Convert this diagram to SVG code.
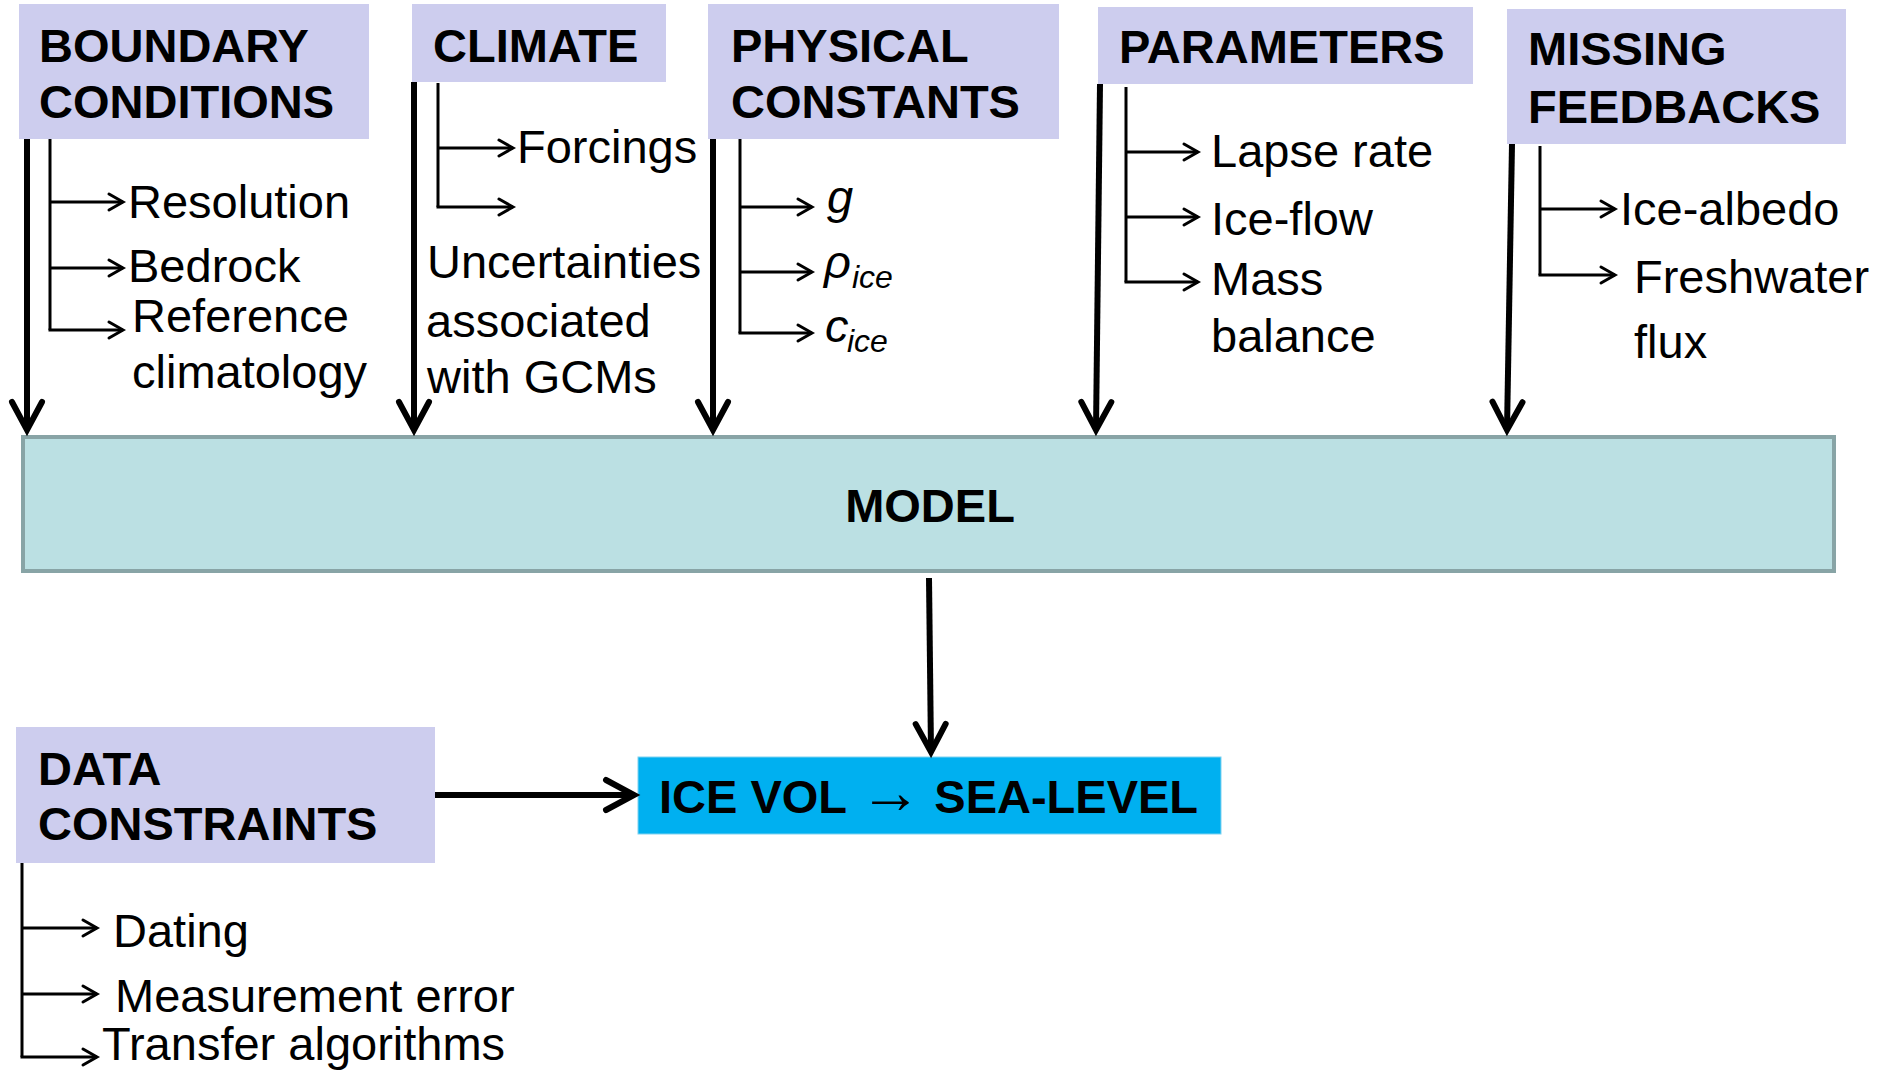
<svg xmlns="http://www.w3.org/2000/svg" width="1878" height="1072" viewBox="0 0 1878 1072">
<style>
.hd{fill:#cdcdee}
.ht{font-family:"Liberation Sans","DejaVu Sans",sans-serif;font-size:47px;font-weight:bold;fill:#000}
.t{font-family:"Liberation Sans","DejaVu Sans",sans-serif;font-size:47px;fill:#000}
.it{font-style:italic}
.sub{font-size:32px}
.main{fill:none;stroke:#000;stroke-width:6;marker-end:url(#big)}
.thin{fill:none;stroke:#000;stroke-width:3}
</style>
<defs>
<marker id="big" markerUnits="userSpaceOnUse" markerWidth="40" markerHeight="40" refX="0" refY="0" orient="auto" overflow="visible">
<path d="M-28,-15 L0,0 L-28,15" fill="none" stroke="#000" stroke-width="6" stroke-linecap="round" stroke-linejoin="miter"/>
</marker>
<marker id="small" markerUnits="userSpaceOnUse" markerWidth="20" markerHeight="20" refX="0" refY="0" orient="auto" overflow="visible">
<path d="M-14,-8 L0,0 L-14,8" fill="none" stroke="#000" stroke-width="3" stroke-linecap="round"/>
</marker>
</defs>
<rect width="1878" height="1072" fill="#fff"/>

<g id="boundary">
<rect class="hd" x="19" y="4" width="350" height="135"/>
<text class="ht" x="39" y="62">BOUNDARY</text>
<text class="ht" x="39" y="118">CONDITIONS</text>
<text class="t" x="128" y="218">Resolution</text>
<text class="t" x="128" y="282">Bedrock</text>
<text class="t" x="132" y="332">Reference</text>
<text class="t" x="132" y="388">climatology</text>
</g>

<g id="climate">
<rect class="hd" x="412" y="4" width="254" height="78"/>
<text class="ht" x="433" y="62">CLIMATE</text>
<text class="t" x="517" y="163">Forcings</text>
<text class="t" x="427" y="278">Uncertainties</text>
<text class="t" x="426" y="337">associated</text>
<text class="t" x="427" y="393">with GCMs</text>
</g>

<g id="physical">
<rect class="hd" x="708" y="4" width="351" height="135"/>
<text class="ht" x="731" y="62">PHYSICAL</text>
<text class="ht" x="731" y="118">CONSTANTS</text>
<text class="t it" x="827" y="213">g</text>
<text class="t it" x="824" y="278">ρ</text>
<text class="t it sub" x="852" y="288">ice</text>
<text class="t it" x="825" y="342">c</text>
<text class="t it sub" x="847" y="352">ice</text>
</g>

<g id="parameters">
<rect class="hd" x="1098" y="7" width="375" height="77"/>
<text class="ht" x="1119" y="63">PARAMETERS</text>
<text class="t" x="1211" y="167">Lapse rate</text>
<text class="t" x="1211" y="235">Ice-flow</text>
<text class="t" x="1211" y="295">Mass</text>
<text class="t" x="1211" y="352">balance</text>
</g>

<g id="missing">
<rect class="hd" x="1507" y="9" width="339" height="135"/>
<text class="ht" x="1528" y="65">MISSING</text>
<text class="ht" x="1528" y="123">FEEDBACKS</text>
<text class="t" x="1620" y="225">Ice-albedo</text>
<text class="t" x="1634" y="293">Freshwater</text>
<text class="t" x="1634" y="358">flux</text>
</g>

<g id="model">
<rect x="23" y="437" width="1811" height="134" fill="#bbe0e3" stroke="#88a4a6" stroke-width="4"/>
<text class="ht" x="930" y="522" text-anchor="middle">MODEL</text>
</g>

<g id="icevol">
<rect x="638" y="757" width="583" height="77" fill="#00b0f0" stroke="#7fd2f0" stroke-width="1"/>
<text class="ht" x="659" y="813">ICE VOL <tspan font-weight="normal" font-size="62px">→</tspan> SEA-LEVEL</text>
</g>

<g id="data">
<rect class="hd" x="16" y="727" width="419" height="136"/>
<text class="ht" x="38" y="785">DATA</text>
<text class="ht" x="38" y="840">CONSTRAINTS</text>
<text class="t" x="113" y="947">Dating</text>
<text class="t" x="115" y="1012">Measurement error</text>
<text class="t" x="102" y="1060">Transfer algorithms</text>
</g>

<g id="connectors">
<path class="main" d="M27,139 L27,430"/>
<path class="main" d="M414,82 L414,430"/>
<path class="main" d="M713,139 L713,430"/>
<path class="main" d="M1100,84 L1096,430"/>
<path class="main" d="M1512,144 L1507,430"/>
<path class="main" d="M929,578 L931,752"/>
<path class="main" d="M435,795 L634,795"/>

<path class="thin" d="M50,139 V330"/>
<path class="thin" d="M50,202 H123" marker-end="url(#small)"/>
<path class="thin" d="M50,268 H123" marker-end="url(#small)"/>
<path class="thin" d="M48.5,330 H123" marker-end="url(#small)"/>

<path class="thin" d="M438,83 V207"/>
<path class="thin" d="M438,148 H513" marker-end="url(#small)"/>
<path class="thin" d="M436.5,207 H513" marker-end="url(#small)"/>

<path class="thin" d="M740,139 V333"/>
<path class="thin" d="M740,207 H812" marker-end="url(#small)"/>
<path class="thin" d="M740,272 H812" marker-end="url(#small)"/>
<path class="thin" d="M738.5,333 H812" marker-end="url(#small)"/>

<path class="thin" d="M1126,87 V282"/>
<path class="thin" d="M1126,152 H1198" marker-end="url(#small)"/>
<path class="thin" d="M1126,217 H1198" marker-end="url(#small)"/>
<path class="thin" d="M1124.5,282 H1198" marker-end="url(#small)"/>

<path class="thin" d="M1540,146 V275"/>
<path class="thin" d="M1540,209 H1615" marker-end="url(#small)"/>
<path class="thin" d="M1538.5,275 H1615" marker-end="url(#small)"/>

<path class="thin" d="M22,863 V1057"/>
<path class="thin" d="M22,928 H97" marker-end="url(#small)"/>
<path class="thin" d="M22,994 H97" marker-end="url(#small)"/>
<path class="thin" d="M20.5,1057 H97" marker-end="url(#small)"/>
</g>
</svg>
